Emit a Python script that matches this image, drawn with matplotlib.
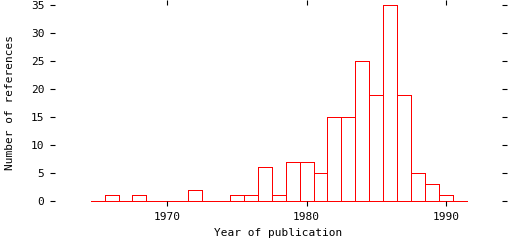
import matplotlib
matplotlib.use("Agg")
from matplotlib import pyplot as plt

years = list(range(1965, 1992))
counts = [0, 1, 0, 1, 0, 0, 0, 2, 0, 0, 1, 1, 6, 1, 7, 7, 5,
          15, 15, 25, 19, 35, 19, 5, 3, 1, 0]
x_ticks = [1970, 1980, 1990]
y_ticks = [0, 5, 10, 15, 20, 25, 30, 35]

plt.rcParams['font.family'] = ['DejaVu Sans Mono']

fig = plt.figure(figsize=(5.12, 2.40), dpi=100, facecolor='w')
ax = fig.add_axes([55 / 512, 1 - 201 / 240, 447 / 512, 196 / 240])

ax.bar(years, counts, width=1, fill=False, edgecolor='red',
       linewidth=0.6, antialiased=False, clip_on=False)

ax.set_xlim(1961.94, 1994.03)
ax.set_ylim(0, 35)
ax.set_xticks(x_ticks)
ax.set_yticks(y_ticks)
for s in ax.spines.values():
    s.set_visible(False)
ax.tick_params(direction='out', length=3.6, width=0.8, labelsize=8,
               top=True, right=True, pad=4)

ax.set_xlabel('Year of publication', fontsize=8)
ax.set_ylabel('Number of references', fontsize=8)
ax.xaxis.label.set_va('center')
ax.yaxis.label.set_va('center')
ax.xaxis.set_label_coords(0.5, (201 - 233) / 196)
ax.yaxis.set_label_coords((10.5 - 55) / 447, 0.5)

fig.savefig('out.png', dpi=100)
